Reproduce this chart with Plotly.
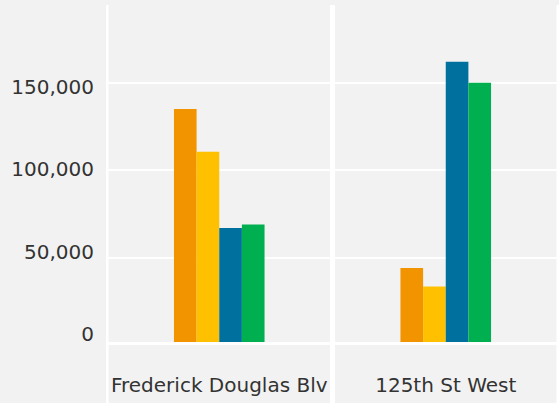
import plotly.graph_objects as go

categories = ["Frederick Douglas Blv", "125th St West"]
series_names = ["Series 1", "Series 2", "Series 3", "Series 4"]
series_values = [
    [135000, 44000],
    [110500, 33500],
    [67000, 162000],
    [69000, 150000],
]
series_colors = ["#F29400", "#FFC000", "#00719E", "#00AF50"]
tick_values = [0, 50000, 100000, 150000]
tick_labels = ["0", "50,000", "100,000", "150,000"]

BG = "#F2F2F2"
TEXT = "#333333"
FONT = "DejaVu Sans"

fig = go.Figure()
for name, vals, col in zip(series_names, series_values, series_colors):
    fig.add_trace(go.Bar(
        x=categories, y=vals, name=name,
        marker=dict(color=col, line=dict(width=0)),
        showlegend=False,
    ))

# invisible trace to anchor the label axis
fig.add_trace(go.Scatter(x=categories, y=[None, None], yaxis="y2",
                         showlegend=False, hoverinfo="skip", mode="markers"))

fig.update_layout(
    width=559, height=403,
    margin=dict(l=106, r=0, t=5, b=58, autoexpand=False),
    paper_bgcolor=BG, plot_bgcolor=BG,
    barmode="group", bargap=0.6, bargroupgap=0,
    font=dict(family=FONT, color=TEXT),
    xaxis=dict(
        type="category", range=[-0.5, 1.5], automargin=False,
        showgrid=False, zeroline=False, showline=False,
        ticks="outside", ticklen=22, tickcolor="rgba(0,0,0,0)",
        tickfont=dict(size=20, family=FONT, color=TEXT),
    ),
    yaxis=dict(
        range=[0, 194500], automargin=False,
        tickvals=tick_values, showticklabels=False,
        showgrid=True, gridcolor="white", gridwidth=2,
        zeroline=False, showline=False, ticks="",
    ),
    yaxis2=dict(
        overlaying="y", side="left", anchor="x", automargin=False,
        range=[-6667, 199394],
        tickvals=tick_values, ticktext=tick_labels,
        showgrid=False, zeroline=False, showline=False,
        ticks="outside", ticklen=7, tickcolor="rgba(0,0,0,0)",
        tickfont=dict(size=20, family=FONT, color=TEXT),
    ),
    shapes=[
        dict(type="line", xref="x", yref="paper", x0=b, x1=b, y0=-0.18, y1=1,
             line=dict(color="white", width=5), layer="below")
        for b in [-0.5, 0.5, 1.5]
    ] + [
        dict(type="line", xref="paper", yref="y", x0=0, x1=1, y0=0, y1=0,
             line=dict(color="white", width=6), layer="above")
    ],
)

fig.write_html(
    "out.html",
    config={"displayModeBar": False},
    post_script="document.body.style.margin='0px';document.body.style.overflow='hidden';",
)
